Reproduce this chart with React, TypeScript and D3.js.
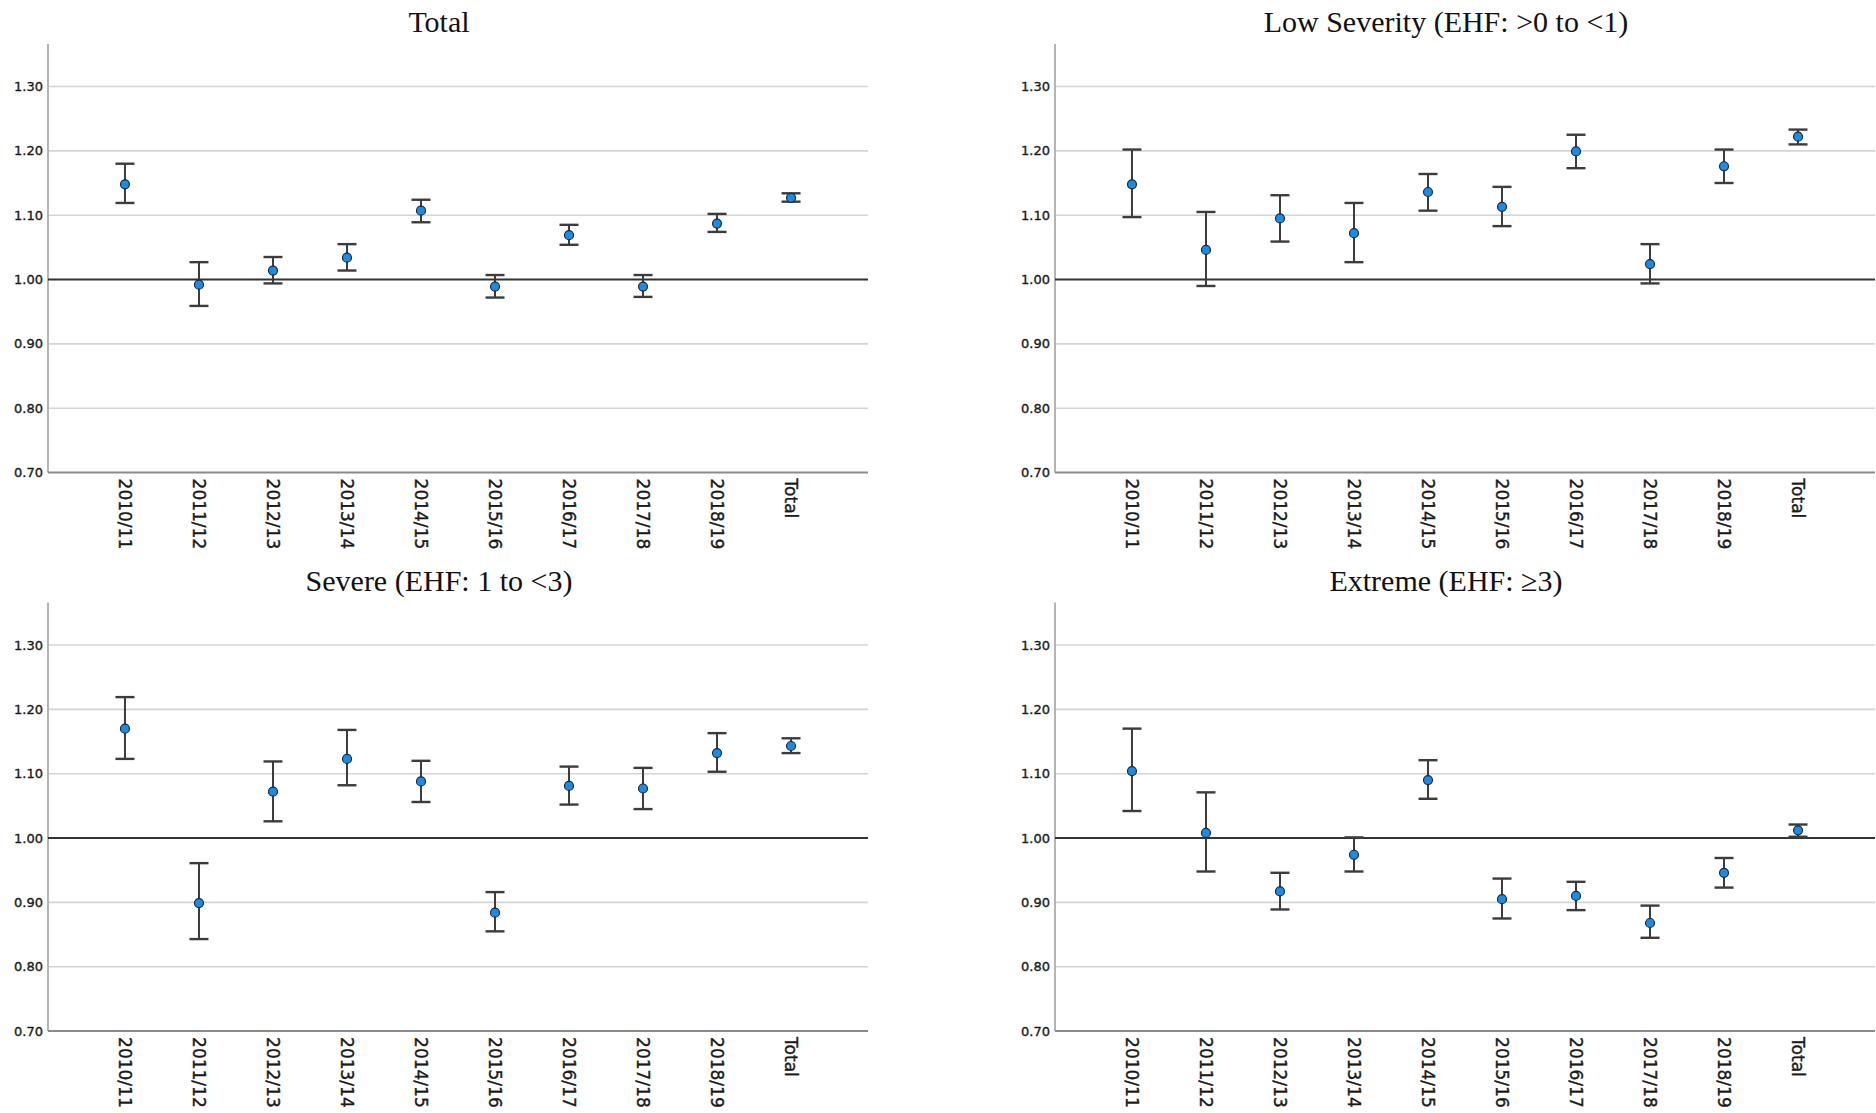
import React from 'react';
import * as d3 from 'd3';

const categories = ['2010/11', '2011/12', '2012/13', '2013/14', '2014/15', '2015/16', '2016/17', '2017/18', '2018/19', 'Total'];
const yTicks = [0.7, 0.8, 0.9, 1.0, 1.1, 1.2, 1.3];

// point estimates and 95% CI bounds per panel
const totalMean = [1.148, 0.992, 1.014, 1.034, 1.107, 0.989, 1.069, 0.989, 1.087, 1.127];
const totalLow = [1.119, 0.959, 0.994, 1.014, 1.089, 0.972, 1.054, 0.973, 1.074, 1.121];
const totalHigh = [1.180, 1.027, 1.035, 1.055, 1.124, 1.007, 1.085, 1.007, 1.102, 1.134];

const lowMean = [1.148, 1.046, 1.095, 1.072, 1.136, 1.113, 1.199, 1.024, 1.176, 1.222];
const lowLow = [1.097, 0.990, 1.059, 1.027, 1.107, 1.083, 1.173, 0.994, 1.150, 1.210];
const lowHigh = [1.202, 1.105, 1.131, 1.119, 1.164, 1.144, 1.225, 1.055, 1.202, 1.233];

const severeMean = [1.170, 0.899, 1.072, 1.123, 1.088, 0.884, 1.081, 1.077, 1.132, 1.143];
const severeLow = [1.123, 0.843, 1.026, 1.082, 1.056, 0.855, 1.052, 1.045, 1.103, 1.132];
const severeHigh = [1.219, 0.961, 1.119, 1.168, 1.120, 0.916, 1.111, 1.109, 1.163, 1.155];

const extremeMean = [1.104, 1.008, 0.917, 0.974, 1.090, 0.905, 0.910, 0.868, 0.946, 1.012];
const extremeLow = [1.042, 0.948, 0.889, 0.948, 1.061, 0.875, 0.888, 0.845, 0.923, 1.002];
const extremeHigh = [1.170, 1.071, 0.946, 1.001, 1.121, 0.937, 0.932, 0.895, 0.969, 1.021];

const panels = [
  { title: 'Total', mean: totalMean, low: totalLow, high: totalHigh, left: 48, top: 44 },
  { title: 'Low Severity (EHF: >0 to <1)', mean: lowMean, low: lowLow, high: lowHigh, left: 1055, top: 44 },
  { title: 'Severe (EHF: 1 to <3)', mean: severeMean, low: severeLow, high: severeHigh, left: 48, top: 602.5 },
  { title: 'Extreme (EHF: \u22653)', mean: extremeMean, low: extremeLow, high: extremeHigh, left: 1055, top: 602.5 },
];

const plotW = 820;
const plotH = 428.6;

const Panel = ({ p }) => {
  const x = d3.scalePoint().domain(categories).range([0, plotW]).padding(1.04);
  const y = d3.scaleLinear().domain([0.7, 1.366]).range([plotH, 0]);
  const cap = 9.5;
  return (
    <g transform={`translate(${p.left},${p.top})`}>
      <text
        x={plotW / 2 - 19}
        y={-12}
        textAnchor="middle"
        fontFamily="Liberation Serif, serif"
        fontSize={30}
        fill="#111"
      >
        {p.title}
      </text>
      {yTicks.filter(t => t !== 1.0 && t !== 0.7).map(t => (
        <line key={t} x1={0} x2={plotW} y1={y(t)} y2={y(t)} stroke="#d4d4d4" strokeWidth={1.6} />
      ))}
      {yTicks.map(t => (
        <text
          key={'l' + t}
          x={-5}
          y={y(t)}
          dy="0.35em"
          textAnchor="end"
          fontFamily="DejaVu Sans, sans-serif"
          fontSize={13}
          fill="#1a1a1a"
          stroke="#1a1a1a"
          strokeWidth={0.35}
        >
          {d3.format('.2f')(t)}
        </text>
      ))}
      <line x1={0} x2={0} y1={0} y2={plotH} stroke="#b4b4b4" strokeWidth={2} />
      <line x1={0} x2={plotW} y1={plotH} y2={plotH} stroke="#8a8a8a" strokeWidth={2} />
      <line x1={0} x2={plotW} y1={y(1)} y2={y(1)} stroke="#333" strokeWidth={2} />
      {categories.map((c, i) => (
        <g key={c}>
          <line x1={x(c)} x2={x(c)} y1={y(p.low[i])} y2={y(p.high[i])} stroke="#3c3c3c" strokeWidth={2} />
          <line x1={x(c) - cap} x2={x(c) + cap} y1={y(p.low[i])} y2={y(p.low[i])} stroke="#3c3c3c" strokeWidth={2.4} />
          <line x1={x(c) - cap} x2={x(c) + cap} y1={y(p.high[i])} y2={y(p.high[i])} stroke="#3c3c3c" strokeWidth={2.4} />
          <circle cx={x(c)} cy={y(p.mean[i])} r={4.5} fill="#1a8ce8" stroke="#1b2a3a" strokeWidth={1.2} />
          <text
            transform={`translate(${x(c)},${plotH + 6}) rotate(90)`}
            dy="0.36em"
            fontFamily="DejaVu Sans, sans-serif"
            fontSize={17}
            fill="#1a1a1a"
            stroke="#1a1a1a"
            strokeWidth={0.4}
          >
            {c}
          </text>
        </g>
      ))}
    </g>
  );
};

export default function App() {
  return (
    <svg
      width={1876}
      height={1113}
      style={{ position: 'absolute', left: 0, top: 0, background: '#fff' }}
    >
      <rect width={1876} height={1113} fill="#fff" />
      {panels.map(p => (
        <Panel key={p.title} p={p} />
      ))}
    </svg>
  );
}
